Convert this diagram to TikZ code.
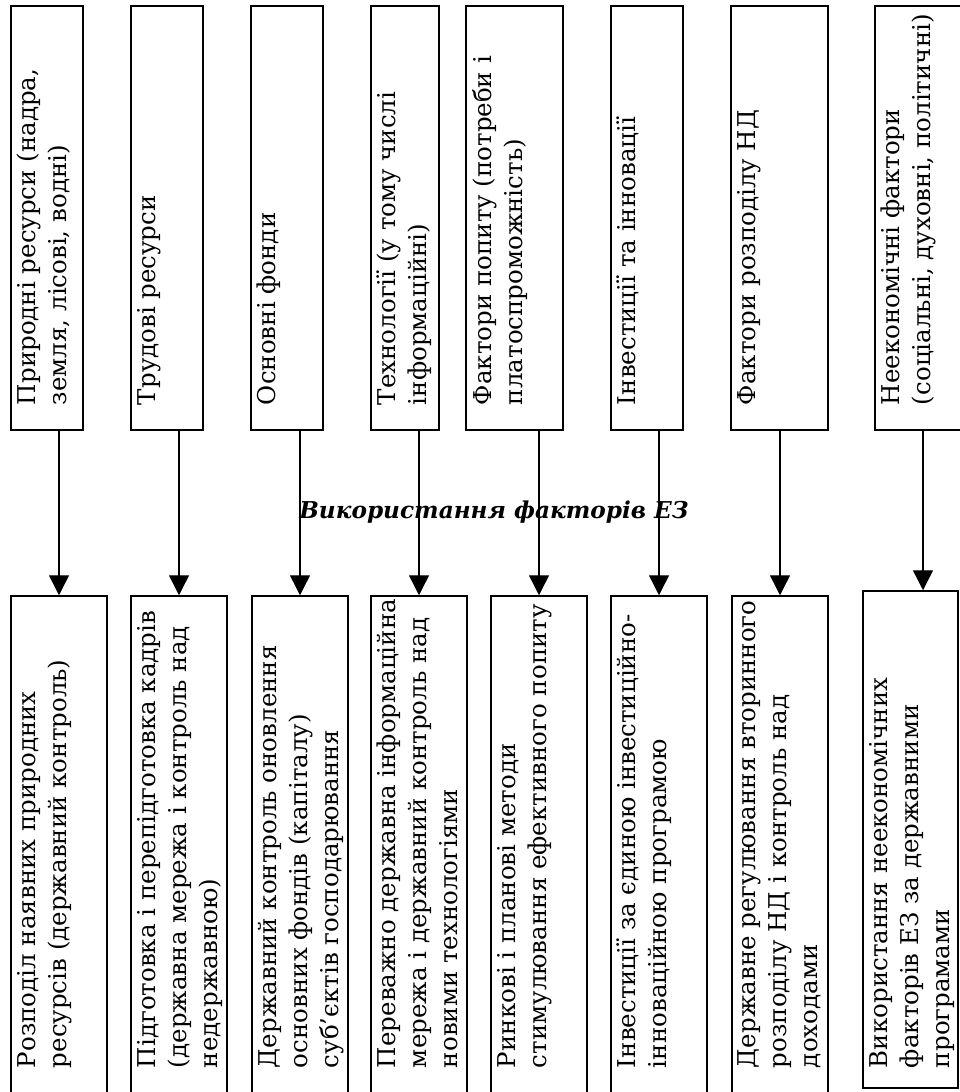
\documentclass[tikz,border=0pt]{standalone}
\usepackage{fontspec}
\setmainfont{DejaVu Serif}
\usetikzlibrary{arrows.meta}
\newcommand{\vtxt}[4]{\parbox[c][#1pt][t]{#2pt}{\raggedright\leftskip=#3pt #4}}

\begin{document}
\begin{tikzpicture}[x=1pt, y=1pt, font=\fontsize{24.5}{31}\selectfont,
  vb/.style={rectangle, draw, line width=1.5pt, rotate=90, inner xsep=2pt, inner ysep=6pt},
  arr/.style={-{Triangle[length=20pt, width=20pt]}, line width=1.4pt}]
  \useasboundingbox (0,0) rectangle (960,-1092);
  \clip (0,0) rectangle (960,-1092);
  \node[vb] (t1) at (47,-218)    {\vtxt{60}{420}{23}{Природні ресурси (надра,\\ земля, лісові, водні)}};
  \node[vb] (t2) at (167,-218)   {\vtxt{60}{420}{23}{Трудові ресурси}};
  \node[vb] (t3) at (287,-218)   {\vtxt{60}{420}{23}{Основні фонди}};
  \node[vb] (t4) at (405,-218)   {\vtxt{56}{420}{23}{Технології (у тому числі\\ інформаційні)}};
  \node[vb] (t5) at (514.5,-218) {\vtxt{85}{420}{23}{Фактори попиту (потреби і\\ платоспроможність)}};
  \node[vb] (t6) at (647,-218)   {\vtxt{60}{420}{23}{Інвестиції та інновації}};
  \node[vb] (t7) at (779.5,-218) {\vtxt{85}{420}{23}{Фактори розподілу НД}};
  \node[vb] (t8) at (923,-218)   {\vtxt{84}{420}{23}{Неекономічні фактори\\ (соціальні, духовні, політичні)}};
  \node[vb] (b1) at (59,-848)    {\vtxt{84}{500}{30}{Розподіл наявних природних\\ ресурсів (державний контроль)}};
  \node[vb] (b2) at (179,-848)   {\vtxt{84}{500}{30}{Підготовка і перепідготовка кадрів\\ (державна мережа і контроль над\\ недержавною)}};
  \node[vb] (b3) at (300,-848)   {\vtxt{84}{500}{30}{Державний контроль оновлення\\ основних фондів (капіталу)\\ суб’єктів господарювання}};
  \node[vb] (b4) at (419,-848)   {\vtxt{84}{500}{30}{Переважно державна інформаційна\\ мережа і державний контроль над\\ новими технологіями}};
  \node[vb] (b5) at (539,-848)   {\vtxt{84}{500}{30}{Ринкові і планові методи\\ стимулювання ефективного попиту}};
  \node[vb] (b6) at (659,-848)   {\vtxt{84}{500}{30}{Інвестиції за єдиною інвестиційно-\\ інноваційною програмою}};
  \node[vb] (b7) at (780,-848)   {\vtxt{84}{500}{30}{Державне регулювання вторинного\\ розподілу НД і контроль над\\ доходами}};
  \node[vb] (b8) at (910.5,-839.5) {\vtxt{83}{493}{18}{Використання неекономічних\\ факторів ЕЗ за державними\\ програмами}};
  \draw[arr] (t1.west -| b1.east)--(b1.east); \draw[arr] (t2.west -| b2.east)--(b2.east);
  \draw[arr] (t3.west -| b3.east)--(b3.east); \draw[arr] (t4.west -| b4.east)--(b4.east);
  \draw[arr] (t5.west -| b5.east)--(b5.east); \draw[arr] (t6.west -| b6.east)--(b6.east);
  \draw[arr] (t7.west -| b7.east)--(b7.east); \draw[arr] (t8.west)--(t8.west |- b8.east);
  \node[font=\fontsize{23.2}{26}\selectfont\bfseries\itshape] (ttl) at (494,-512) {Використання факторів ЕЗ};
\end{tikzpicture}
\end{document}
